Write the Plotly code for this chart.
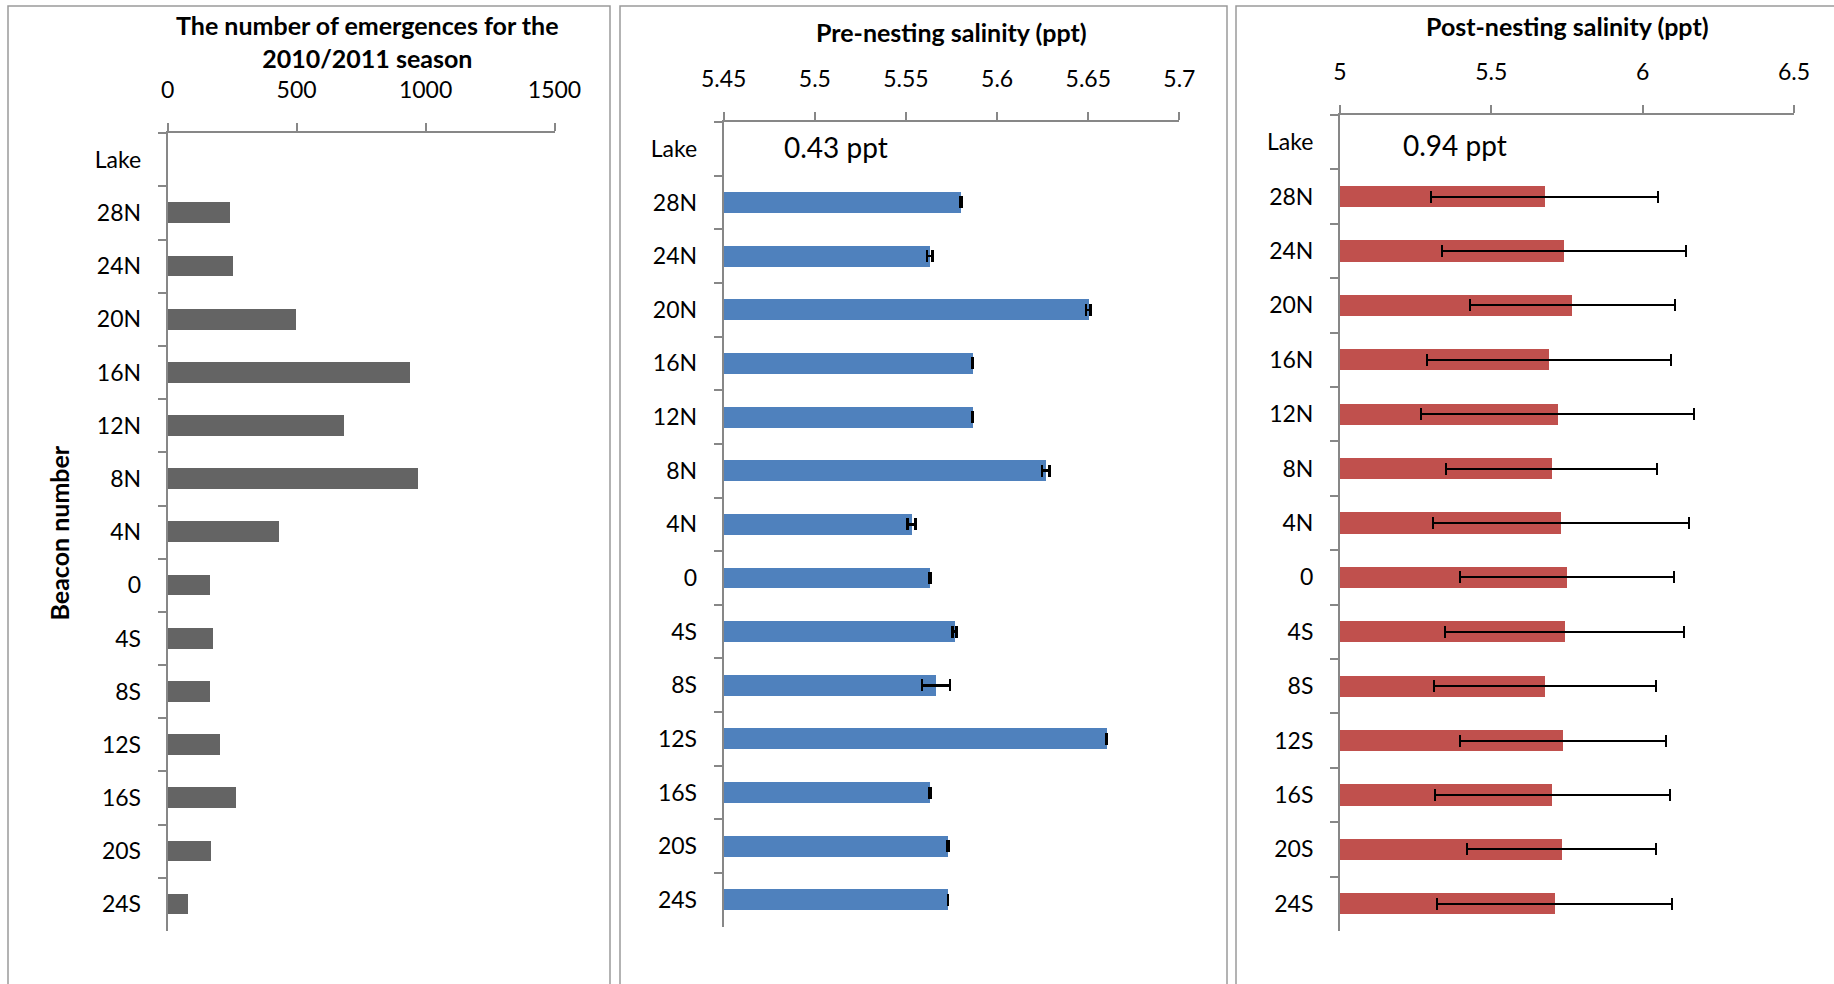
import plotly.graph_objects as go

# Beacon positions along the beach, north to south (Lake at the top has no data)
beacons = ["Lake", "28N", "24N", "20N", "16N", "12N", "8N", "4N", "0",
           "4S", "8S", "12S", "16S", "20S", "24S"]

# Emergences per beacon, 2010/2011 season
emergences = [None, 242, 252, 498, 937, 684, 968, 429, 163, 176, 161, 202, 262, 166, 78]

# Pre-nesting salinity (ppt) and its error
pre_salinity = [None, 5.580, 5.563, 5.650, 5.5865, 5.5865, 5.6266, 5.553, 5.563,
                5.5766, 5.5664, 5.660, 5.563, 5.573, 5.573]
pre_err = [None, 0.0005, 0.0015, 0.0013, 0.0004, 0.0004, 0.002, 0.0022, 0.0004,
           0.0012, 0.0077, 0.0004, 0.0004, 0.0005, 0.0]

# Post-nesting salinity (ppt) and its error
post_salinity = [None, 5.676, 5.740, 5.767, 5.690, 5.720, 5.699, 5.730, 5.751,
                 5.742, 5.677, 5.737, 5.702, 5.732, 5.709]
post_err = [None, 0.374, 0.403, 0.339, 0.402, 0.451, 0.349, 0.424, 0.354,
            0.394, 0.368, 0.339, 0.387, 0.313, 0.389]

W, H = 1834, 984
FONT = "Lato"
AXIS_GREY = "#878787"


def px_x(v):
    return v / W


def px_y(v):
    return 1 - v / H


fig = go.Figure()

fig.add_trace(go.Bar(
    x=emergences, y=beacons, orientation="h", width=0.39,
    marker=dict(color="#646464", line=dict(width=0)),
    xaxis="x", yaxis="y", showlegend=False,
))
fig.add_trace(go.Bar(
    x=pre_salinity, y=beacons, orientation="h", width=0.39,
    marker=dict(color="#4F81BD", line=dict(width=0)),
    error_x=dict(type="data", array=pre_err, symmetric=True,
                 color="black", thickness=2.5, width=6),
    xaxis="x2", yaxis="y2", showlegend=False,
))
fig.add_trace(go.Bar(
    x=post_salinity, y=beacons, orientation="h", width=0.39,
    marker=dict(color="#C0504D", line=dict(width=0)),
    error_x=dict(type="data", array=post_err, symmetric=True,
                 color="black", thickness=2, width=6),
    xaxis="x3", yaxis="y3", showlegend=False,
))

tick_font = dict(family=FONT, size=23, color="black")
cat_font = dict(family=FONT, size=23, color="black")


def xaxis_cfg(domain, rng, dtick, anchor):
    return dict(
        domain=domain, range=rng, dtick=dtick, side="top", anchor=anchor,
        showline=True, linecolor=AXIS_GREY, linewidth=2,
        ticks="outside", ticklen=8, tickwidth=2, tickcolor=AXIS_GREY,
        showgrid=False, zeroline=False, tickfont=tick_font,
        ticklabelstandoff=16, automargin=False, fixedrange=True,
    )


def yaxis_cfg(domain, anchor):
    return dict(
        domain=domain, type="category", categoryorder="array",
        categoryarray=beacons, range=[14.5, -0.5], anchor=anchor,
        showline=True, linecolor=AXIS_GREY, linewidth=2,
        ticks="outside", ticklen=8, tickwidth=2, tickcolor=AXIS_GREY,
        tickson="boundaries", showgrid=False, zeroline=False,
        tickfont=cat_font, ticklabelstandoff=20, automargin=False,
        fixedrange=True,
    )


# plotting areas of the three panels (pixel edges)
p1 = dict(x=(167.7, 554.5), y=(133.3, 931.0))
p2 = dict(x=(723.7, 1179.4), y=(122.0, 926.7))
p3 = dict(x=(1340.0, 1794.0), y=(115.0, 931.0))


def xdom(p):
    return [px_x(p["x"][0]), px_x(p["x"][1])]


def ydom(p):
    return [px_y(p["y"][1]), px_y(p["y"][0])]


fig.update_layout(
    width=W, height=H,
    margin=dict(l=0, r=0, t=0, b=0, pad=0, autoexpand=False),
    paper_bgcolor="white", plot_bgcolor="rgba(0,0,0,0)",
    bargap=0, showlegend=False,
    xaxis=xaxis_cfg(xdom(p1), [0, 1500], 500, "y"),
    xaxis2=xaxis_cfg(xdom(p2), [5.45, 5.7], 0.05, "y2"),
    xaxis3=xaxis_cfg(xdom(p3), [5, 6.5], 0.5, "y3"),
    yaxis=yaxis_cfg(ydom(p1), "x"),
    yaxis2=yaxis_cfg(ydom(p2), "x2"),
    yaxis3=yaxis_cfg(ydom(p3), "x3"),
)
fig.update_layout(xaxis2_tickformat="~g")

# panel frames (open at the bottom / right edge of the page)
frame = dict(type="rect", xref="paper", yref="paper", layer="below",
             line=dict(color="#9A9A9A", width=1.5), fillcolor="rgba(0,0,0,0)")
fig.add_shape(**frame, x0=px_x(8), x1=px_x(610), y0=-0.1, y1=px_y(6))
fig.add_shape(**frame, x0=px_x(620), x1=px_x(1227), y0=-0.1, y1=px_y(6))
fig.add_shape(**frame, x0=px_x(1236), x1=1.1, y0=-0.1, y1=px_y(6))

title_font = dict(family=FONT, size=25, color="black", weight="bold")
ann = dict(xref="paper", yref="paper", showarrow=False)

fig.add_annotation(**ann, x=px_x(367), y=px_y(41.5), xanchor="center", yanchor="middle",
                   text="The number of emergences for the<br>2010/2011 season",
                   font=title_font)
fig.add_annotation(**ann, x=px_x(951.5), y=px_y(31.6), xanchor="center", yanchor="middle",
                   text="Pre-nesting salinity (ppt)", font=title_font)
fig.add_annotation(**ann, x=px_x(1567), y=px_y(25.7), xanchor="center", yanchor="middle",
                   text="Post-nesting salinity (ppt)", font=title_font)
fig.add_annotation(**ann, x=px_x(58.5), y=px_y(533), xanchor="center", yanchor="middle",
                   textangle=-90, text="Beacon number",
                   font=dict(family=FONT, size=25, color="black", weight="bold"))

range_font = dict(family=FONT, size=28, color="black")
fig.add_annotation(**ann, x=px_x(782), y=px_y(146.7), xanchor="left", yanchor="middle",
                   text="0.43 ppt", font=range_font)
fig.add_annotation(**ann, x=px_x(1401), y=px_y(144.5), xanchor="left", yanchor="middle",
                   text="0.94 ppt", font=range_font)

fig.write_html("out.html")
